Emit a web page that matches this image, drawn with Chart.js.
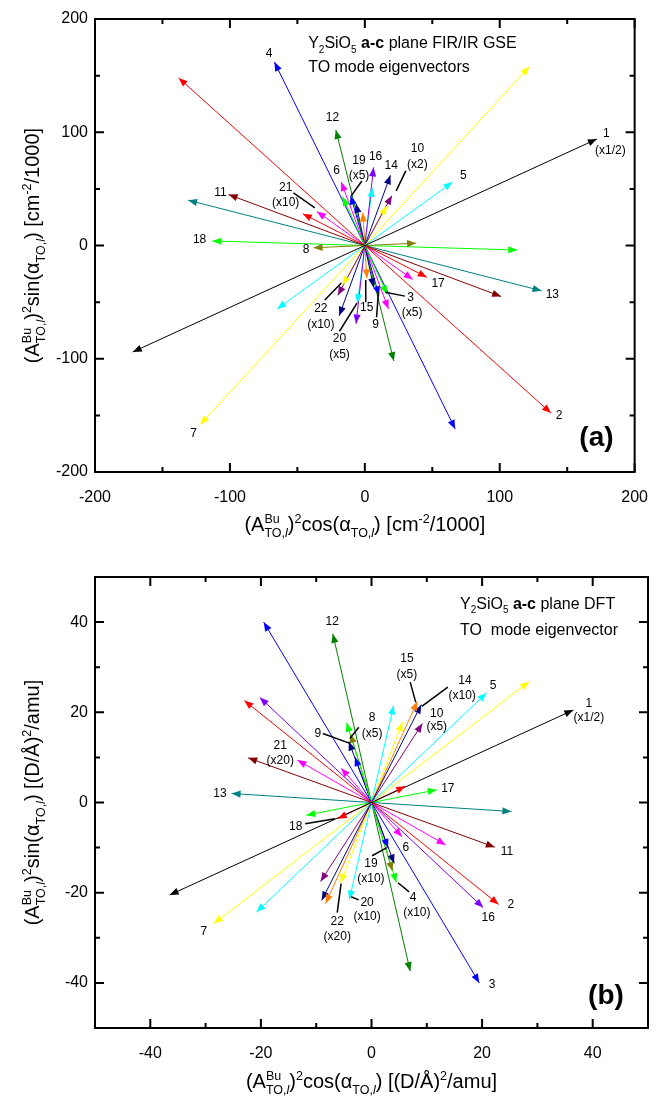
<!DOCTYPE html>
<html>
<head>
<meta charset="utf-8">
<script src="https://cdn.jsdelivr.net/npm/chart.js@4.4.0/dist/chart.umd.min.js"></script>
<style>
body { margin: 0; background: #fff; }
.box { position: absolute; left: 0; width: 664px; }
</style>
</head>
<body>
<div class="box" style="top:0;height:550px"><canvas id="chartA"></canvas></div>
<div class="box" style="top:550px;height:553px"><canvas id="chartB"></canvas></div>
<script>
// MODES
const modes = ['1','2','3','4','5','6','7','8','9','10','11','12','13','14','15','16','17','18','19','20','21','22']

// (a) FIR/IR GSE eigenvectors
const xA = [172, 138, 16.5, -67, 65, -17.5, 122, 38, 6.5, 20, -101, -21.5, 131, 19, 1.5, 6.5, 46, -113, -10.5, 5.5, -35.5, 16.5]
const yA = [94, -148, -43, 162, 56, 56, 158, 2, -37, 44, 45, 102, -40, 62, -29, 69, -28, 4, 44, 51, 30, 35]

// (b) DFT eigenvectors
const xB = [36.5, 23, 19.5, 4.5, 20.8, 5.5, 28.5, -3.8, -4.1, 9.2, 22.3, -7, -25.3, 9, 8.3, 20.2, 11.8, 6.1, 3, 4, -13.4, 5.6]
const yB = [20.5, -22.6, -40, -17.7, 24.3, -7.6, 26.8, 15.2, 13.5, 17.5, -9.9, 37.4, 2, 21.7, 22.4, -23.3, 2.8, 3.6, -10.1, 21.5, 9.4, 17.8]

// TICKS
const ticksA = [-200, -100, 0, 100, 200]
const minorA = [-150, -50, 50, 150]
const ticksB = [-40, -20, 0, 20, 40]
const minorB = [-50, -30, -10, 10, 30, 50]

// COLORS
const colorsA = ['#000000','#FF0000','#00FF00','#0000FF','#00FFFF','#FF00FF','#FFFF00','#808000','#000080','#800080','#800000',
    '#008000','#008080','#000080','#FF8000','#8000FF','#FF0000','#00FF00','#0000FF','#00FFFF','#FF00FF','#FFFF00']
const colorsB = ['#000000','#FF0000','#0000FF','#00FF00','#00FFFF','#FF00FF','#FFFF00','#808000','#000080','#800080','#800000',
    '#008000','#008080','#000080','#FF8000','#8000FF','#00FF00','#FF0000','#0000FF','#00FFFF','#FF00FF','#FFFF00']

// ANNOTATIONS (text, x, y in data units)
const labelsA = [
    ['1', 179, 98.7], ['(x1/2)', 182, 83.6], ['2', 144, -150], ['3', 34, -46.5], ['(x5)', 35, -59],
    ['4', -71, 169.5], ['5', 73, 61.5], ['6', -21, 66], ['7', -127, -166], ['8', -43.5, -4], ['9', 8, -69.5],
    ['10', 39, 85.4], ['(x2)', 39, 71.2], ['11', -107, 46.5], ['12', -24, 113], ['13', 139, -43],
    ['14', 19.6, 70.4], ['15', 1.4, -55.3], ['16', 8, 78.3], ['17', 54.3, -34], ['18', -122.5, 4.9],
    ['19', -4.3, 74.8], ['(x5)', -4.3, 61.5], ['20', -18.8, -82.7], ['(x5)', -18.8, -96],
    ['21', -58.7, 50.9], ['(x10)', -58.7, 37.6], ['22', -32.6, -56.2], ['(x10)', -32.6, -69.5],
]
const leadersA = [
    [-2.2, 57, -10.1, 43.8], [-52.9, 46.5, -37, 33.2], [-29.7, -48.2, -17.4, -33.2], [-18.8, -75.7, -5.8, -50.9],
    [30.4, 65.9, 23.2, 48.2], [29.7, -44.7, 15.2, -41.2], [0.7, -50, 0.7, -30.5], [8.7, -63.3, 10.1, -41.2],
]
const labelsB = [
    ['1', 39.3, 22], ['(x1/2)', 39.3, 18.7], ['2', 25.2, -22.7], ['3', 21.8, -40.4], ['4', 7.5, -21.1], ['(x10)', 8.2, -24.4],
    ['5', 22, 26], ['6', 6.2, -10], ['7', -30.3, -28.7], ['8', 0.1, 18.9], ['(x5)', 0.1, 15.3], ['9', -9.7, 15.3],
    ['10', 11.8, 19.8], ['(x5)', 11.8, 16.7], ['11', 24.5, -10.9], ['12', -7.1, 40], ['13', -27.4, 2],
    ['14', 16.9, 26.9], ['(x10)', 16.4, 23.6], ['15', 6.4, 31.8], ['(x5)', 6.4, 28.4], ['16', 21.1, -25.6],
    ['17', 13.8, 3.1], ['18', -13.7, -5.3], ['19', -0.1, -13.6], ['(x10)', -0.1, -16.9], ['20', -0.8, -22.2],
    ['(x10)', -0.8, -25.3], ['21', -16.5, 12.7], ['(x20)', -16.5, 9.3], ['22', -6.2, -26.4], ['(x20)', -6.2, -29.8],
]
const leadersB = [
    [-8.8, 15.3, -3.9, 13.1], [-2.3, 16.7, -3.9, 14.2], [7, 26.7, 8, 22.2], [13.8, 25.6, 9.1, 21.3],
    [-12, -4.7, -6.6, -3.6], [-6.2, -24.4, -5.5, -18], [-2.3, -21.6, -3.7, -20.9], [0.1, -11.8, 2.8, -10],
    [6.8, -19.8, 4.8, -17.8],
]

// RICH TEXT PIECES
const titleA1 = [['Y','n'],['2','sub'],['SiO','n'],['5','sub'],[' ','n'],['a-c','b'],[' plane FIR/IR GSE','n']]
const titleA2 = [['TO mode eigenvectors','n']]
const titleB1 = [['Y','n'],['2','sub'],['SiO','n'],['5','sub'],[' ','n'],['a-c','b'],[' plane DFT','n']]
const titleB2 = [['TO  mode eigenvector','n']]
const axisHead = [['(A','n'],['Bu','hold'],['TO,','sub'],['l','subi'],[')','n'],['2','sup']]
const alphaPart = [['α','n'],['TO,','sub'],['l','subi']]
const unitA = [[') [cm','n'],['-2','sup'],['/1000]','n']]
const unitB = [[') [(D/Å)','n'],['2','sup'],['/amu]','n']]

const FONT = '"Liberation Sans", Arial, Helvetica, sans-serif'

const richLayout = (ctx, pieces, M, S) => {
    let x = 0
    let hold = null
    const out = []
    pieces.forEach(([t, k]) => {
        const small = k !== 'n' && k !== 'b'
        const font = (k === 'b' ? 'bold ' : k === 'subi' ? 'italic ' : '') + (small ? S : M) + 'px ' + FONT
        ctx.font = font
        const w = ctx.measureText(t).width
        const isSub = k === 'sub' || k === 'subi'
        if (hold && !isSub) { x = Math.max(x, hold.x + hold.w); hold = null }
        const dy = (k === 'sup' || k === 'hold') ? -0.42 * M : isSub ? 0.3 * M : 0
        out.push({ t, font, x, dy })
        if (k === 'hold') hold = { x, w }
        else x += w
    })
    if (hold) x = Math.max(x, hold.x + hold.w)
    return { out, width: x }
}

const drawRich = (ctx, pieces, x, y, M, S, align) => {
    const lay = richLayout(ctx, pieces, M, S)
    const x0 = align === 'center' ? x - lay.width / 2 : x
    ctx.textAlign = 'left'
    ctx.textBaseline = 'alphabetic'
    ctx.fillStyle = '#000'
    lay.out.forEach((p) => {
        ctx.font = p.font
        ctx.fillText(p.t, x0 + p.x, y + p.dy)
    })
}

const decor = {
    id: 'decor',
    afterDatasetsDraw(chart) {
        const ctx = chart.ctx
        chart.data.datasets.forEach((ds, i) => {
            const pts = chart.getDatasetMeta(i).data
            ctx.fillStyle = ds.borderColor
            ;[[pts[0], pts[1]], [pts[1], pts[0]]].forEach(([tip, from]) => {
                const a = Math.atan2(tip.y - from.y, tip.x - from.x)
                const L = 9, W = 3.6
                const bx = tip.x - L * Math.cos(a), by = tip.y - L * Math.sin(a)
                ctx.beginPath()
                ctx.moveTo(tip.x, tip.y)
                ctx.lineTo(bx - W * Math.sin(a), by + W * Math.cos(a))
                ctx.lineTo(bx + W * Math.sin(a), by - W * Math.cos(a))
                ctx.closePath()
                ctx.fill()
            })
        })
    },
    afterDraw(chart, args, opts) {
        const ctx = chart.ctx
        const { left, right, top, bottom } = chart.chartArea
        const sx = chart.scales.x
        const sy = chart.scales.y
        ctx.save()

        // frame + inward ticks
        ctx.strokeStyle = '#000'
        ctx.lineWidth = 2
        ctx.strokeRect(left, top, right - left, bottom - top)
        const tick = (vals, len) => {
            vals.forEach((v) => {
                const px = sx.getPixelForValue(v)
                const py = sy.getPixelForValue(v)
                ctx.beginPath()
                ctx.moveTo(px, bottom); ctx.lineTo(px, bottom - len)
                ctx.moveTo(px, top); ctx.lineTo(px, top + len)
                ctx.moveTo(left, py); ctx.lineTo(left + len, py)
                ctx.moveTo(right, py); ctx.lineTo(right - len, py)
                ctx.stroke()
            })
        }
        tick(opts.majors, 9)
        tick(opts.minors, 5)

        // leaders
        ctx.lineWidth = 1.5
        opts.leaders.forEach(([x1, y1, x2, y2]) => {
            ctx.beginPath()
            ctx.moveTo(sx.getPixelForValue(x1), sy.getPixelForValue(y1))
            ctx.lineTo(sx.getPixelForValue(x2), sy.getPixelForValue(y2))
            ctx.stroke()
        })

        // mode labels
        ctx.fillStyle = '#000'
        ctx.textAlign = 'center'
        ctx.textBaseline = 'middle'
        ctx.font = '12px ' + FONT
        opts.labels.forEach(([t, x, y]) => {
            ctx.fillText(t, sx.getPixelForValue(x), sy.getPixelForValue(y))
        })
        ctx.font = 'bold 28px ' + FONT
        ctx.fillText(opts.tag[0], sx.getPixelForValue(opts.tag[1]), sy.getPixelForValue(opts.tag[2]))

        // panel title
        const tx = sx.getPixelForValue(opts.titlePos[0])
        drawRich(ctx, opts.title[0], tx, sy.getPixelForValue(opts.titlePos[1]) + 5.5, 16, 10, 'left')
        drawRich(ctx, opts.title[1], tx, sy.getPixelForValue(opts.titlePos[2]) + 5.5, 16, 10, 'left')

        // axis titles
        drawRich(ctx, opts.xTitle, (left + right) / 2, opts.xTitleY + 7, 20, 12.5, 'center')
        ctx.translate(opts.yTitleX + 7, (top + bottom) / 2)
        ctx.rotate(-Math.PI / 2)
        drawRich(ctx, opts.yTitle, 0, 0, 20, 12.5, 'center')
        ctx.restore()
    }
}

const makeDatasets = (xs, ys, colors) => modes.map((m, i) => ({
    label: m,
    data: [{ x: -xs[i], y: -ys[i] }, { x: xs[i], y: ys[i] }],
    borderColor: colors[i],
    backgroundColor: colors[i],
    borderWidth: 1,
    pointRadius: 0,
    showLine: true,
}))

const axis = (lim, ticks, fit) => ({
    type: 'linear',
    min: -lim,
    max: lim,
    afterBuildTicks: (s) => { s.ticks = ticks.map(v => ({ value: v })) },
    afterFit: fit,
    grid: { display: false, drawTicks: false },
    border: { display: false },
    ticks: { color: '#000', font: { size: 16, family: FONT }, padding: 7, maxRotation: 0, autoSkip: false },
})

// CHART (a)
const xScaleA = axis(200, ticksA, (s) => { s.height = 78 })
xScaleA.ticks.padding = 16
new Chart(document.getElementById('chartA'), {
    type: 'scatter',
    data: { datasets: makeDatasets(xA, yA, colorsA) },
    options: {
        animation: false,
        responsive: true,
        maintainAspectRatio: false,
        layout: { padding: { top: 19, right: 17, left: 0, bottom: 0 } },
        plugins: {
            legend: { display: false },
            tooltip: { enabled: false },
            decor: {
                majors: ticksA, minors: minorA, labels: labelsA, leaders: leadersA,
                tag: ['(a)', 171.7, -170.4],
                title: [titleA1, titleA2], titlePos: [-42, 179, 158],
                xTitle: [...axisHead, ['cos(', 'n'], ...alphaPart, ...unitA], xTitleY: 524,
                yTitle: [...axisHead, ['sin(', 'n'], ...alphaPart, ...unitA], yTitleX: 32,
            },
        },
        scales: {
            x: xScaleA,
            y: axis(200, ticksA, (s) => { s.width = 95 }),
        },
    },
    plugins: [decor],
})

// CHART (b)
const xScaleB = axis(50, ticksB, (s) => { s.height = 75 })
xScaleB.ticks.padding = 16
new Chart(document.getElementById('chartB'), {
    type: 'scatter',
    data: { datasets: makeDatasets(xB, yB, colorsB) },
    options: {
        animation: false,
        responsive: true,
        maintainAspectRatio: false,
        layout: { padding: { top: 27, right: 16, left: 0, bottom: 0 } },
        plugins: {
            legend: { display: false },
            tooltip: { enabled: false },
            decor: {
                majors: ticksB, minors: minorB, labels: labelsB, leaders: leadersB,
                tag: ['(b)', 42.4, -42.9],
                title: [titleB1, titleB2], titlePos: [16, 44.2, 38.4],
                xTitle: [...axisHead, ['cos(', 'n'], ...alphaPart, ...unitB], xTitleY: 531,
                yTitle: [...axisHead, ['sin(', 'n'], ...alphaPart, ...unitB], yTitleX: 32,
            },
        },
        scales: {
            x: xScaleB,
            y: axis(50, ticksB, (s) => { s.width = 95 }),
        },
    },
    plugins: [decor],
})
</script>
</body>
</html>
